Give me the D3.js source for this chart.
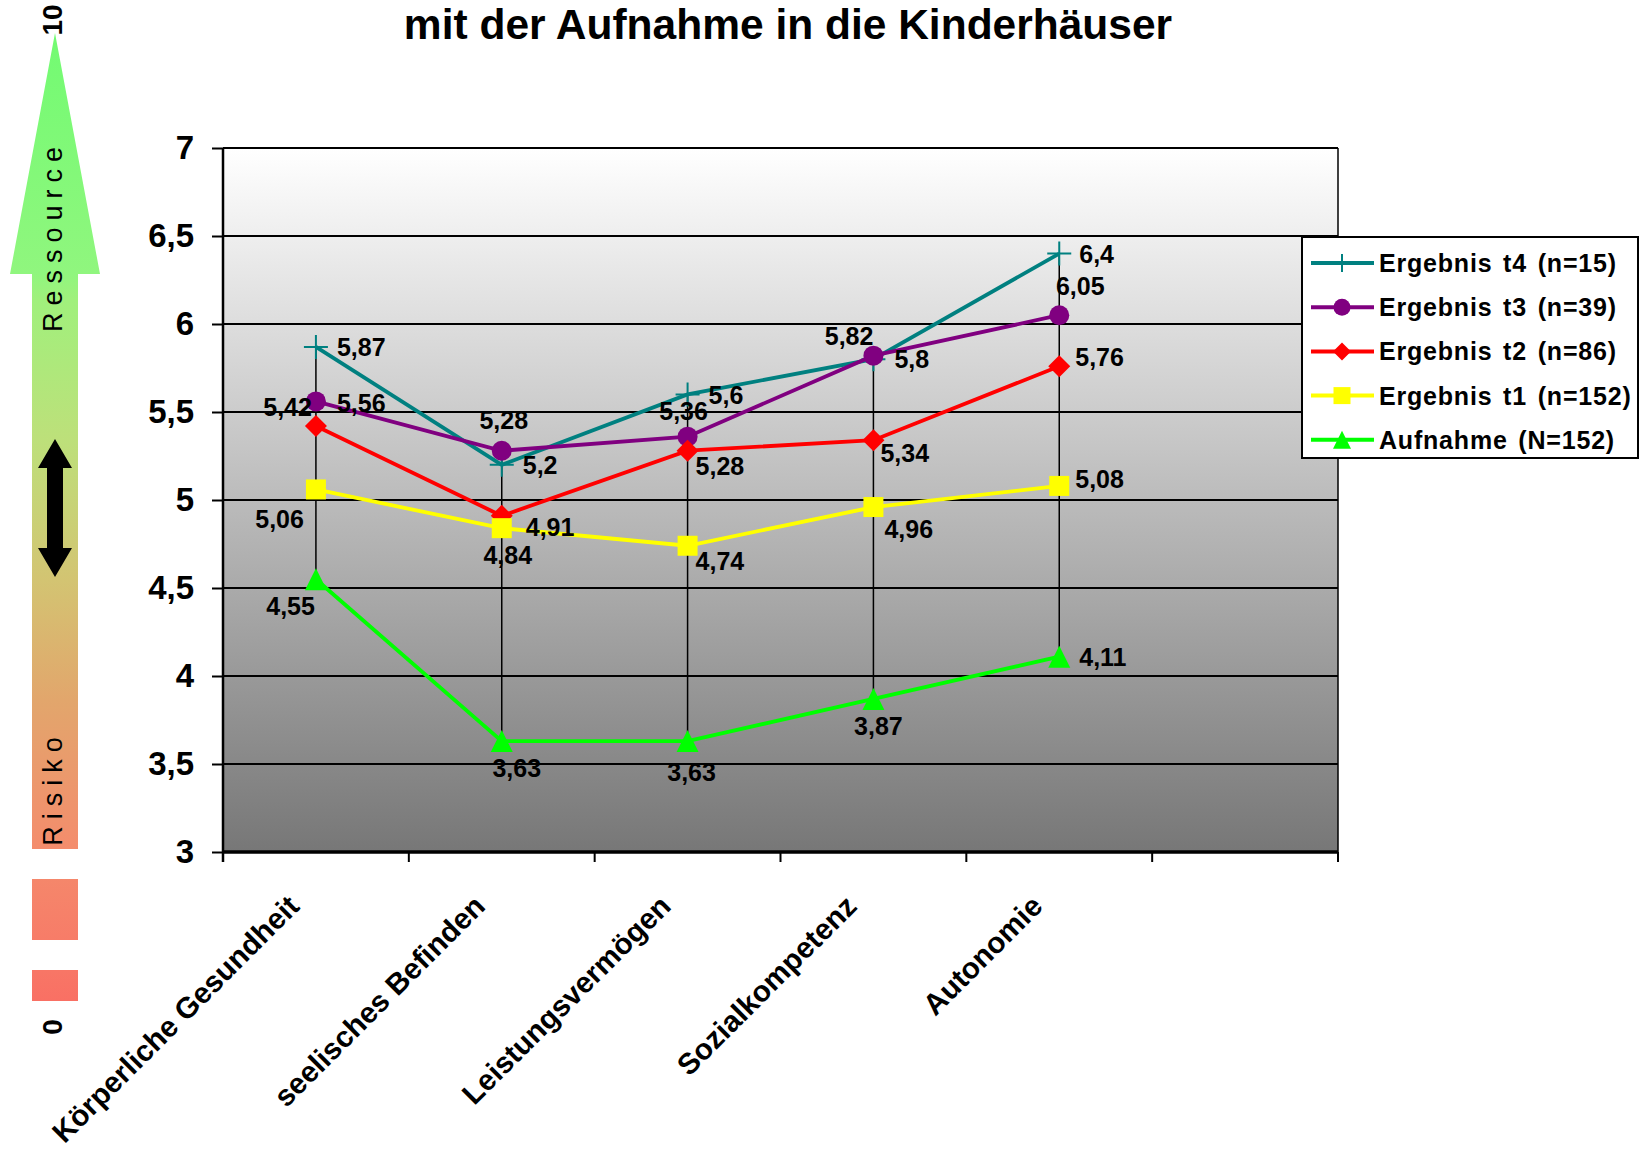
<!DOCTYPE html>
<html>
<head>
<meta charset="utf-8">
<script src="https://cdn.jsdelivr.net/npm/d3@7"></script>
<style>
body { margin: 0; background: #fff; }
text { font-family: "Liberation Sans", Arial, sans-serif; }
</style>
</head>
<body>
<div id="chart"></div>
<script>
// chart values
var categories = ["Körperliche Gesundheit", "seelisches Befinden", "Leistungsvermögen", "Sozialkompetenz", "Autonomie"];
var t4Values = [5.87, 5.2, 5.6, 5.8, 6.4];
var t3Values = [5.56, 5.28, 5.36, 5.82, 6.05];
var t2Values = [5.42, 4.91, 5.28, 5.34, 5.76];
var t1Values = [5.06, 4.84, 4.74, 4.96, 5.08];
var aufnahmeValues = [4.55, 3.63, 3.63, 3.87, 4.11];
var seriesNames = ["Ergebnis t4 (n=15)", "Ergebnis t3 (n=39)", "Ergebnis t2 (n=86)", "Ergebnis t1 (n=152)", "Aufnahme (N=152)"];
var yTicks = [3, 3.5, 4, 4.5, 5, 5.5, 6, 6.5, 7];
var titleText = "mit der Aufnahme in die Kinderhäuser";

// styles per series (same order as seriesNames)
var colors = ["#008080", "#800080", "#ff0000", "#ffff00", "#00ff00"];
var markers = ["plus", "circle", "diamond", "square", "triangle"];

// label placement per series / category: [dx, dy, anchor]
var labelOffsets = [
  [[21, 0, "start"], [21, 0, "start"], [21, 1, "start"], [21, 0, "start"], [20, 0, "start"]],
  [[21, 2, "start"], [2, -31, "middle"], [-4, -26, "middle"], [0, -20, "end"], [21, -29, "middle"]],
  [[-4, -19, "end"], [24, 11, "start"], [8, 15, "start"], [7, 13, "start"], [16, -9, "start"]],
  [[-12, 30, "end"], [6, 27, "middle"], [8, 15, "start"], [11, 22, "start"], [16, -7, "start"]],
  [[-1, 27, "end"], [15, 27, "middle"], [4, 31, "middle"], [5, 27, "middle"], [20, 0, "start"]]
];

var svgWidth = 1641;
var svgHeight = 1153;
var margin = { top: 148, left: 223 };
var width = 1115;
var height = 704;

var svg = d3.select("#chart")
  .append("svg")
  .attr("width", svgWidth)
  .attr("height", svgHeight);

var series = [t4Values, t3Values, t2Values, t1Values, aufnahmeValues].map(function(vals, i) {
  return { name: seriesNames[i], values: vals, color: colors[i], marker: markers[i], offsets: labelOffsets[i] };
});

var fmt = function(v) { return String(v).replace(".", ","); };

var defs = svg.append("defs");

var bgGrad = defs.append("linearGradient")
  .attr("id", "plotBg")
  .attr("x1", 0).attr("y1", 0).attr("x2", 0).attr("y2", 1);
bgGrad.append("stop").attr("offset", 0).attr("stop-color", "#ffffff");
bgGrad.append("stop").attr("offset", 1).attr("stop-color", "#777777");

var arrowGrad = defs.append("linearGradient")
  .attr("id", "arrowGrad")
  .attr("gradientUnits", "userSpaceOnUse")
  .attr("x1", 0).attr("y1", 33).attr("x2", 0).attr("y2", 1001);
[[0, "#72fb72"], [0.249, "#90f67e"], [0.276, "#a0f07c"], [0.42, "#bde07a"], [0.565, "#d3c472"],
 [0.689, "#e2a66c"], [0.843, "#f48c6c"], [0.937, "#f77c68"], [1, "#f97064"]].forEach(function(s) {
  arrowGrad.append("stop").attr("offset", s[0]).attr("stop-color", s[1]);
});

// title (first line is cut off in the original)
svg.append("text")
  .attr("x", 788)
  .attr("y", 39)
  .attr("text-anchor", "middle")
  .attr("font-size", 42.5)
  .attr("font-weight", "bold")
  .text(titleText);

// Risiko / Ressource arrow on the left
var deco = svg.append("g");
deco.append("path")
  .attr("d", "M55,33L100,274L78,274L78,849L32,849L32,274L10,274Z")
  .attr("fill", "url(#arrowGrad)");
deco.append("rect").attr("x", 32).attr("y", 879).attr("width", 46).attr("height", 61).attr("fill", "url(#arrowGrad)");
deco.append("rect").attr("x", 32).attr("y", 970).attr("width", 46).attr("height", 31).attr("fill", "url(#arrowGrad)");
deco.append("path")
  .attr("d", "M55,439L72,468L63,468L63,548L72,548L55,577L38,548L47,548L47,468L38,468Z")
  .attr("fill", "#000");

function sideText(txt, y, size, weight, spacing) {
  deco.append("text")
    .attr("transform", "translate(62," + y + ") rotate(-90)")
    .attr("text-anchor", "middle")
    .attr("font-size", size)
    .attr("font-weight", weight)
    .attr("letter-spacing", spacing)
    .text(txt);
}
sideText("10", 20, 28, "bold", 0);
sideText("Ressource", 236, 27, "normal", 7);
sideText("Risiko", 788, 27, "normal", 7);
sideText("0", 1027, 28, "bold", 0);

// chart group
var chartGroup = svg.append("g")
  .attr("transform", `translate(${margin.left}, ${margin.top})`);

var xScale = d3.scaleBand()
  .domain(categories.concat([""]))
  .range([0, width]);

var yScale = d3.scaleLinear()
  .domain([3, 7])
  .range([height, 0]);

var cx = function(i) { return xScale(categories[i]) + xScale.bandwidth() / 2; };

chartGroup.append("rect")
  .attr("width", width)
  .attr("height", height)
  .attr("fill", "url(#plotBg)");

// gridlines
chartGroup.selectAll(".grid")
  .data(yTicks.filter(function(d) { return d > 3; }))
  .enter()
  .append("line")
  .attr("x1", 0)
  .attr("x2", width)
  .attr("y1", d => yScale(d))
  .attr("y2", d => yScale(d))
  .attr("stroke", "#000")
  .attr("stroke-width", 2);

// right border
chartGroup.append("line")
  .attr("x1", width).attr("x2", width)
  .attr("y1", 0).attr("y2", height + 8)
  .attr("stroke", "#000")
  .attr("stroke-width", 1.5);

// y axis
var leftAxis = d3.axisLeft(yScale)
  .tickValues(yTicks)
  .tickSize(11)
  .tickPadding(18)
  .tickFormat(fmt);

var yAxis = chartGroup.append("g").call(leftAxis);
yAxis.select(".domain").remove();
yAxis.selectAll(".tick line").attr("stroke", "#000").attr("stroke-width", 2);
yAxis.selectAll(".tick text")
  .attr("font-size", 33)
  .attr("font-weight", "bold")
  .attr("fill", "#000")
  .style("font-family", "'Liberation Sans', Arial, sans-serif");

chartGroup.append("line")
  .attr("x1", 0).attr("x2", 0)
  .attr("y1", 0).attr("y2", height + 10)
  .attr("stroke", "#000")
  .attr("stroke-width", 2.5);

// x axis
chartGroup.append("line")
  .attr("x1", 0).attr("x2", width)
  .attr("y1", height).attr("y2", height)
  .attr("stroke", "#000")
  .attr("stroke-width", 3.5);

chartGroup.selectAll(".xtick")
  .data(d3.range(xScale.domain().length + 1))
  .enter()
  .append("line")
  .attr("x1", d => d * xScale.step())
  .attr("x2", d => d * xScale.step())
  .attr("y1", height)
  .attr("y2", height + 10)
  .attr("stroke", "#000")
  .attr("stroke-width", 2);

chartGroup.selectAll(".xlabel")
  .data(categories)
  .enter()
  .append("text")
  .attr("transform", (d, i) => `translate(${cx(i) - 15}, ${height + 56}) rotate(-45)`)
  .attr("text-anchor", "end")
  .attr("font-size", 29.5)
  .attr("font-weight", "bold")
  .text(d => d);

// high-low lines
chartGroup.selectAll(".hilo")
  .data(categories)
  .enter()
  .append("line")
  .attr("x1", (d, i) => cx(i))
  .attr("x2", (d, i) => cx(i))
  .attr("y1", (d, i) => yScale(d3.max(series, s => s.values[i])))
  .attr("y2", (d, i) => yScale(d3.min(series, s => s.values[i])))
  .attr("stroke", "#000")
  .attr("stroke-width", 1.5);

function markerPath(type, s) {
  var h = s / 2;
  if (type === "plus") return `M${-h},0H${h}M0,${-h}V${h}`;
  if (type === "circle") return `M${-h},0A${h},${h} 0 1,0 ${h},0A${h},${h} 0 1,0 ${-h},0Z`;
  if (type === "square") return `M${-h},${-h}H${h}V${h}H${-h}Z`;
  if (type === "diamond") return `M0,${-h}L${h},0L0,${h}L${-h},0Z`;
  return `M0,${-h}L${h},${h}L${-h},${h}Z`;
}
var markerSize = { plus: 24, circle: 20, square: 20, diamond: 22, triangle: 22 };

var line = d3.line()
  .x((d, i) => cx(i))
  .y(d => yScale(d));

series.forEach(function(s) {
  chartGroup.append("path")
    .datum(s.values)
    .attr("d", line)
    .attr("fill", "none")
    .attr("stroke", s.color)
    .attr("stroke-width", 3.8);

  chartGroup.selectAll(null)
    .data(s.values)
    .enter()
    .append("path")
    .attr("transform", (d, i) => `translate(${cx(i)}, ${yScale(d)})`)
    .attr("d", markerPath(s.marker, markerSize[s.marker]))
    .attr("fill", s.marker === "plus" ? "none" : s.color)
    .attr("stroke", s.color)
    .attr("stroke-width", s.marker === "plus" ? 2 : 0);
});

// data labels
series.forEach(function(s) {
  chartGroup.selectAll(null)
    .data(s.values)
    .enter()
    .append("text")
    .attr("x", (d, i) => cx(i) + s.offsets[i][0])
    .attr("y", (d, i) => yScale(d) + s.offsets[i][1])
    .attr("dy", "0.36em")
    .attr("text-anchor", (d, i) => s.offsets[i][2])
    .attr("font-size", 25)
    .attr("font-weight", "bold")
    .text(fmt);
});

// legend
var legend = svg.append("g")
  .attr("transform", "translate(1302, 237)");

legend.append("rect")
  .attr("width", 336)
  .attr("height", 221)
  .attr("fill", "#fff")
  .attr("stroke", "#000")
  .attr("stroke-width", 2);

var legendSize = { plus: 18, circle: 17, square: 17, diamond: 18, triangle: 18 };

var items = legend.selectAll(".item")
  .data(series)
  .enter()
  .append("g")
  .attr("transform", (d, i) => `translate(0, ${26 + i * 44.2})`);

items.append("line")
  .attr("x1", 9).attr("x2", 72)
  .attr("stroke", d => d.color)
  .attr("stroke-width", 4);

items.append("path")
  .attr("transform", "translate(40, 0)")
  .attr("d", d => markerPath(d.marker, legendSize[d.marker]))
  .attr("fill", d => d.marker === "plus" ? "none" : d.color)
  .attr("stroke", d => d.color)
  .attr("stroke-width", d => d.marker === "plus" ? 2 : 0);

items.append("text")
  .attr("x", 77)
  .attr("dy", "0.36em")
  .attr("font-size", 25)
  .attr("font-weight", "bold")
  .attr("letter-spacing", 0.8)
  .attr("word-spacing", 3)
  .text(d => d.name);
</script>
</body>
</html>
